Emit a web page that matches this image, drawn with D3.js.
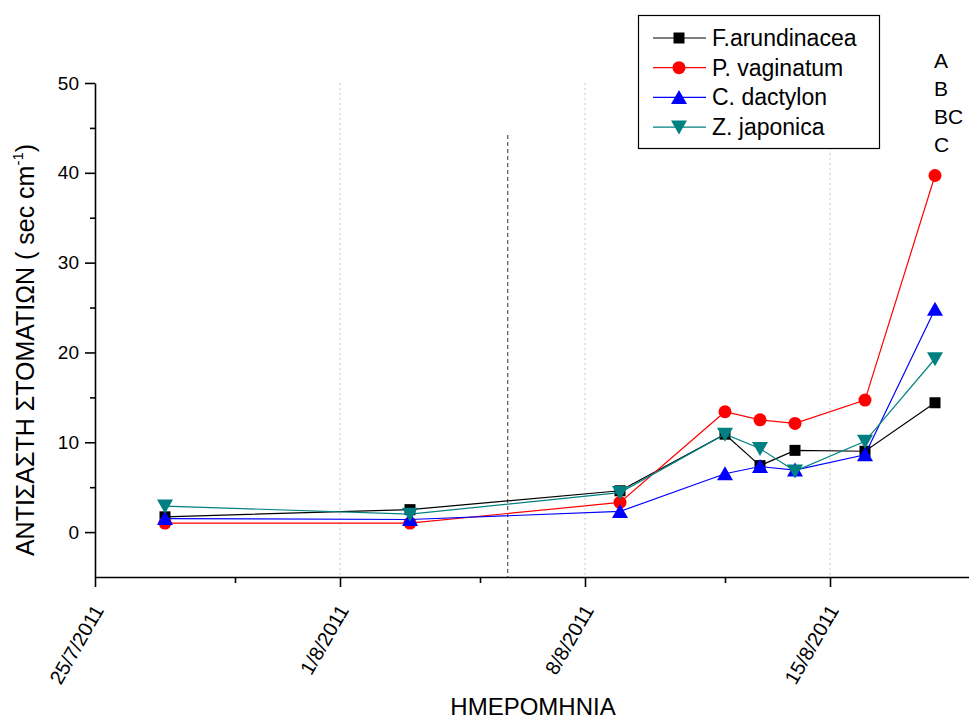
<!DOCTYPE html>
<html>
<head>
<meta charset="utf-8">
<script src="https://cdn.jsdelivr.net/npm/d3@7"></script>
<style>
  html, body { margin: 0; padding: 0; background: #fff; }
  svg { display: block; font-family: "Liberation Sans", Arial, sans-serif; }
</style>
</head>
<body>
<svg id="chart" width="969" height="720"></svg>
<script>
// Measurement dates (day, month) in 2011
const dates = [
  new Date(2011, 6, 27), new Date(2011, 7, 3), new Date(2011, 7, 9),
  new Date(2011, 7, 12), new Date(2011, 7, 13), new Date(2011, 7, 14),
  new Date(2011, 7, 16), new Date(2011, 7, 18)
];

// Stomatal resistance (sec cm-1) per species
const festuca   = [1.7, 2.5, 4.6, 10.9, 7.4, 9.1, 9.0, 14.4];
const paspalum  = [1.0, 1.0, 3.3, 13.4, 12.5, 12.1, 14.7, 39.7];
const cynodon   = [1.5, 1.4, 2.3, 6.5, 7.3, 6.9, 8.6, 24.8];
const zoysia    = [2.9, 2.0, 4.4, 10.9, 9.3, 6.8, 10.1, 19.3];

const seriesNames = ["F.arundinacea", "P. vaginatum", "C. dactylon", "Z. japonica"];
const seriesValues = [festuca, paspalum, cynodon, zoysia];

// Significance letters shown above the last date
const groupLetters = ["A", "B", "BC", "C"];

// Axis ticks
const xMajorTicks = [new Date(2011, 6, 25), new Date(2011, 7, 1), new Date(2011, 7, 8), new Date(2011, 7, 15)];
const xMinorTicks = [new Date(2011, 6, 29), new Date(2011, 7, 5), new Date(2011, 7, 12), new Date(2011, 7, 19)];
const yMajorTicks = [0, 10, 20, 30, 40, 50];
const yMinorTicks = [5, 15, 25, 35, 45];

// Vertical dashed marker (date, top value)
const markerDate = new Date(2011, 7, 5, 19);
const markerTop = 44.2;

const styles = [
  { color: "#000000", shape: "square" },
  { color: "#ff0000", shape: "circle" },
  { color: "#0000ff", shape: "up" },
  { color: "#008080", shape: "down" }
];

const svg = d3.select("#chart");

const x = d3.scaleTime()
  .domain([new Date(2011, 6, 25), new Date(2011, 7, 19)])
  .range([95, 970]);
const y = d3.scaleLinear().domain([-5, 50]).range([577, 83]);

// Dotted grid at the major date ticks
svg.append("g").selectAll("line")
  .data(xMajorTicks.slice(1))
  .join("line")
  .attr("x1", d => x(d)).attr("x2", d => x(d))
  .attr("y1", y(50)).attr("y2", y(-5))
  .attr("stroke", "#c8c8c8").attr("stroke-width", 1)
  .attr("stroke-dasharray", "2,3");

// Dashed marker line
svg.append("line")
  .attr("x1", x(markerDate)).attr("x2", x(markerDate))
  .attr("y1", y(markerTop)).attr("y2", y(-5))
  .attr("stroke", "#555").attr("stroke-width", 1.2)
  .attr("stroke-dasharray", "4,3");

// Y axis
const fmtDate = d3.timeFormat("%-d/%-m/%Y");
const yAxis = svg.append("g").attr("transform", "translate(95,0)");
yAxis.call(d3.axisLeft(y).tickValues(yMajorTicks).tickSize(10).tickPadding(6).tickSizeOuter(0))
  .call(g => g.selectAll("text").attr("font-size", 19).attr("fill", "#000").attr("font-family", "Liberation Sans, Arial"));
yAxis.append("g").call(d3.axisLeft(y).tickValues(yMinorTicks).tickSize(5).tickFormat("").tickSizeOuter(0))
  .call(g => g.select(".domain").remove());
yAxis.selectAll("path, line").attr("stroke", "#000").attr("stroke-width", 1.6);

// X axis
const xAxis = svg.append("g").attr("transform", "translate(0,577)");
xAxis.call(d3.axisBottom(x).tickValues(xMajorTicks).tickSize(10).tickFormat(fmtDate).tickSizeOuter(0))
  .call(g => g.selectAll("text")
    .attr("font-size", 20).attr("fill", "#000").attr("font-family", "Liberation Sans, Arial")
    .attr("text-anchor", "end").attr("dy", null).attr("y", 0)
    .attr("transform", "translate(9,33) rotate(-60)"));
xAxis.append("g").call(d3.axisBottom(x).tickValues(xMinorTicks).tickSize(6).tickFormat("").tickSizeOuter(0))
  .call(g => g.select(".domain").remove());
xAxis.selectAll("path, line").attr("stroke", "#000").attr("stroke-width", 1.6);

// Axis titles
svg.append("text")
  .attr("x", 533).attr("y", 715)
  .attr("text-anchor", "middle").attr("font-size", 24)
  .text("ΗΜΕΡΟΜΗΝΙΑ");

const yTitle = svg.append("text")
  .attr("transform", "translate(34,350) rotate(-90)")
  .attr("text-anchor", "middle").attr("font-size", 25);
yTitle.append("tspan").text("ΑΝΤΙΣΑΣΤΗ ΣΤΟΜΑΤΙΩΝ ( sec cm");
yTitle.append("tspan").attr("font-size", 15).attr("dy", -11).text("-1");
yTitle.append("tspan").attr("dy", 11).text(")");

// Marker drawing helper
function marker(g, shape, color, cx, cy) {
  if (shape === "square") {
    g.append("rect").attr("x", cx - 5.5).attr("y", cy - 5.5).attr("width", 11).attr("height", 11).attr("fill", color);
  } else if (shape === "circle") {
    g.append("circle").attr("cx", cx).attr("cy", cy).attr("r", 6.5).attr("fill", color);
  } else if (shape === "up") {
    g.append("path").attr("d", `M${cx},${cy - 7.5}L${cx + 8},${cy + 6.5}L${cx - 8},${cy + 6.5}Z`).attr("fill", color);
  } else {
    g.append("path").attr("d", `M${cx},${cy + 7.5}L${cx + 8},${cy - 6.5}L${cx - 8},${cy - 6.5}Z`).attr("fill", color);
  }
}

// Series lines and markers
const line = d3.line().x(d => x(d[0])).y(d => y(d[1]));
seriesValues.forEach((vals, i) => {
  const pts = dates.map((d, j) => [d, vals[j]]);
  const g = svg.append("g");
  g.append("path").attr("d", line(pts))
    .attr("fill", "none").attr("stroke", styles[i].color).attr("stroke-width", 1.2);
  pts.forEach(p => marker(g, styles[i].shape, styles[i].color, x(p[0]), y(p[1])));
});

// Group letters above the last date
const lastX = x(dates[dates.length - 1]);
svg.append("g").selectAll("text")
  .data(groupLetters)
  .join("text")
  .attr("x", lastX - 1)
  .attr("y", (d, i) => 68 + i * 28)
  .attr("font-size", 21)
  .text(d => d);

// Legend
const legend = svg.append("g");
legend.append("rect")
  .attr("x", 638.5).attr("y", 15.5).attr("width", 241).attr("height", 133)
  .attr("fill", "#fff").attr("stroke", "#000").attr("stroke-width", 1.2);
seriesNames.forEach((name, i) => {
  const cy = 38 + i * 29.7;
  legend.append("line").attr("x1", 653).attr("x2", 706).attr("y1", cy).attr("y2", cy)
    .attr("stroke", styles[i].color).attr("stroke-width", 1.2);
  marker(legend, styles[i].shape, styles[i].color, 679, cy);
  legend.append("text").attr("x", 712).attr("y", cy + 8).attr("font-size", 23).text(name);
});
</script>
</body>
</html>
